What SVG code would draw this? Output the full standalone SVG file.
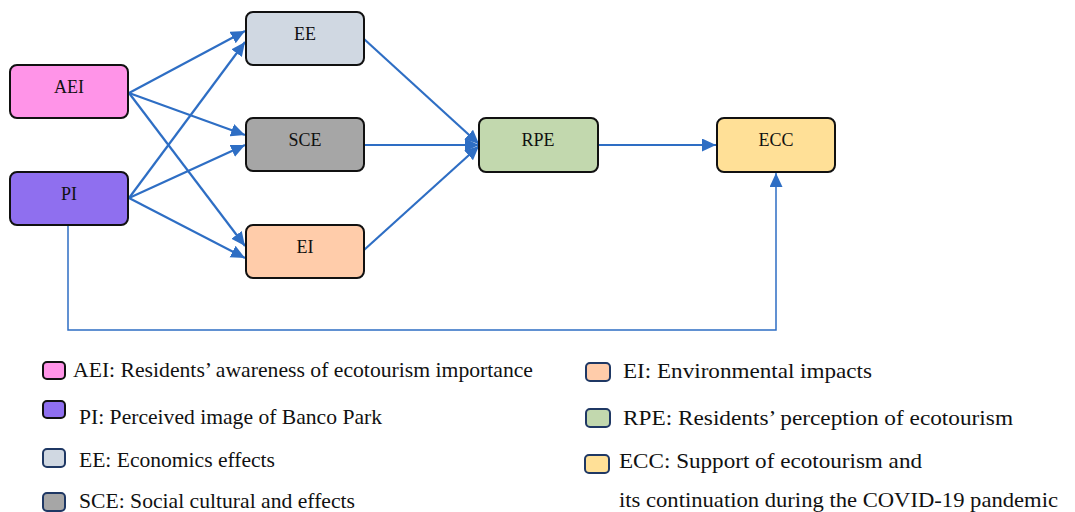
<svg xmlns="http://www.w3.org/2000/svg" width="1075" height="512" viewBox="0 0 1075 512">
<style>
.node{stroke:#111;stroke-width:2}
.nt{font-family:"Liberation Serif",serif;font-size:18px;fill:#111;text-anchor:middle}
.lt{font-family:"Liberation Serif",serif;font-size:22px;fill:#111}
.c{stroke:#2E6EC4;stroke-width:2.2;fill:none}
.sw{stroke:#1F3864;stroke-width:2}
.swb{stroke:#111;stroke-width:2}
</style>
<defs>
<marker id="ah" markerUnits="userSpaceOnUse" markerWidth="16" markerHeight="14" refX="14" refY="6.5" orient="auto">
<path d="M0,0 L14,6.5 L0,13 z" fill="#2E6EC4"/>
</marker>
</defs>
<rect width="1075" height="512" fill="#fff"/>
<g id="connectors">
<line class="c" x1="129" y1="93" x2="245" y2="31" marker-end="url(#ah)"/>
<line class="c" x1="129" y1="93" x2="245" y2="135" marker-end="url(#ah)"/>
<line class="c" x1="129" y1="93" x2="245" y2="246" marker-end="url(#ah)"/>
<line class="c" x1="129" y1="198" x2="245" y2="42" marker-end="url(#ah)"/>
<line class="c" x1="129" y1="198" x2="245" y2="145" marker-end="url(#ah)"/>
<line class="c" x1="129" y1="198" x2="245" y2="258" marker-end="url(#ah)"/>
<line class="c" x1="364" y1="39" x2="479" y2="144" marker-end="url(#ah)"/>
<line class="c" x1="364" y1="145" x2="479" y2="145" marker-end="url(#ah)"/>
<line class="c" x1="364" y1="250" x2="479" y2="146" marker-end="url(#ah)"/>
<line class="c" x1="598" y1="145" x2="716" y2="145" marker-end="url(#ah)"/>
<polyline class="c" style="stroke-width:1.5" points="68,225 68,330 776,330 776,173" marker-end="url(#ah)"/>
</g>
<g id="AEI"><rect class="node" x="10" y="65" width="118" height="53" rx="7" fill="#FF94E8"/><text class="nt" x="69" y="93">AEI</text></g>
<g id="PI"><rect class="node" x="10" y="172" width="118" height="53" rx="7" fill="#8F6FEF"/><text class="nt" x="69" y="200">PI</text></g>
<g id="EE"><rect class="node" x="246" y="12" width="118" height="53" rx="7" fill="#D0D8E2"/><text class="nt" x="305" y="40">EE</text></g>
<g id="SCE"><rect class="node" x="246" y="118" width="118" height="53" rx="7" fill="#A6A6A6"/><text class="nt" x="305" y="146">SCE</text></g>
<g id="EI"><rect class="node" x="246" y="225" width="118" height="53" rx="7" fill="#FFCCAA"/><text class="nt" x="305" y="253">EI</text></g>
<g id="RPE"><rect class="node" x="479" y="118" width="119" height="54" rx="7" fill="#C2D8AE"/><text class="nt" x="538" y="146">RPE</text></g>
<g id="ECC"><rect class="node" x="717" y="118" width="118" height="54" rx="7" fill="#FFE097"/><text class="nt" x="776" y="146">ECC</text></g>
<g id="legend">
<rect class="swb" x="43" y="362" width="22" height="17" rx="4" fill="#FF94E8"/>
<text class="lt" x="73" y="377" textLength="460" lengthAdjust="spacingAndGlyphs">AEI: Residents’ awareness of ecotourism importance</text>
<rect class="swb" x="43" y="401" width="22" height="17" rx="4" fill="#8F6FEF"/>
<text class="lt" x="79" y="424" textLength="303" lengthAdjust="spacingAndGlyphs">PI: Perceived image of Banco Park</text>
<rect class="sw" x="43" y="449" width="22" height="18" rx="4" fill="#D0D8E2"/>
<text class="lt" x="79" y="467" textLength="196" lengthAdjust="spacingAndGlyphs">EE: Economics effects</text>
<rect class="sw" x="43" y="493" width="22" height="18" rx="4" fill="#A6A6A6"/>
<text class="lt" x="79" y="508" textLength="276" lengthAdjust="spacingAndGlyphs">SCE: Social cultural and effects</text>
<rect class="sw" x="586" y="363" width="24" height="18" rx="4" fill="#FFCCAA"/>
<text class="lt" x="623" y="378" textLength="249" lengthAdjust="spacingAndGlyphs">EI: Environmental impacts</text>
<rect class="sw" x="586" y="409" width="24" height="18" rx="4" fill="#C2D8AE"/>
<text class="lt" x="623" y="425" textLength="390" lengthAdjust="spacingAndGlyphs">RPE: Residents’ perception of ecotourism</text>
<rect class="sw" x="585" y="455" width="24" height="18" rx="4" fill="#FFE097"/>
<text class="lt" x="619" y="468" textLength="303" lengthAdjust="spacingAndGlyphs">ECC: Support of ecotourism and</text>
<text class="lt" x="619" y="507" textLength="439" lengthAdjust="spacingAndGlyphs">its continuation during the COVID-19 pandemic</text>
</g>
</svg>
